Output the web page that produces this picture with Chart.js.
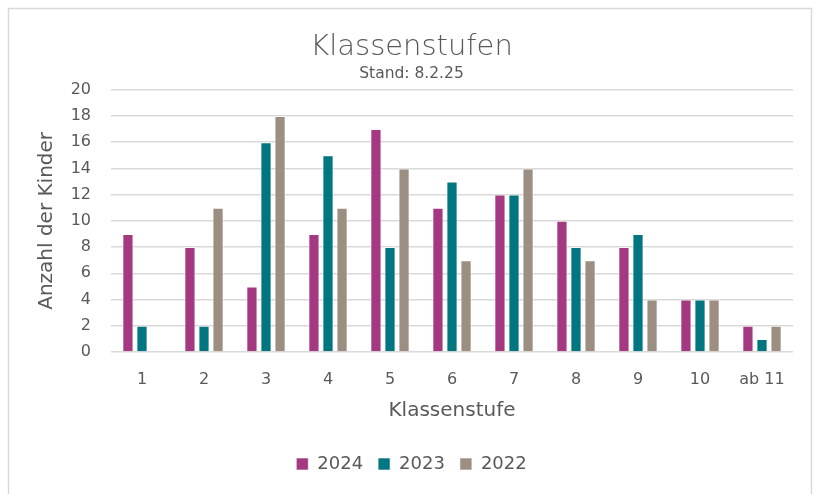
<!DOCTYPE html>
<html>
<head>
<meta charset="utf-8">
<script src="https://cdn.jsdelivr.net/npm/chart.js@4/dist/chart.umd.min.js"></script>
<style>
html,body{margin:0;padding:0;background:#fff;}
#wrap{position:absolute;left:0;top:0;width:819px;height:494px;}
</style>
</head>
<body>
<div id="wrap"><canvas id="c" width="819" height="494"></canvas></div>
<script>
const categories = ['1','2','3','4','5','6','7','8','9','10','ab 11'];
const values2024 = [9, 8, 5, 9, 17, 11, 12, 10, 8, 4, 2];
const values2023 = [2, 2, 16, 15, 8, 13, 12, 8, 9, 4, 1];
const values2022 = [0, 11, 18, 11, 14, 7, 14, 7, 4, 4, 2];
const yTicks = [0, 2, 4, 6, 8, 10, 12, 14, 16, 18, 20];

const FONT = "'DejaVu Sans', sans-serif";
const TXT = '#595959';
const GRID = '#d9d9d9';

const frame = {
  id: 'frame',
  beforeDraw(chart) {
    const ctx = chart.ctx;
    ctx.save();
    ctx.fillStyle = '#fff';
    ctx.fillRect(0, 0, chart.width, chart.height);
    ctx.strokeStyle = GRID;
    ctx.lineWidth = 1.5;
    ctx.strokeRect(8.5, 8.5, 803, 520);
    ctx.restore();
  }
};

function ds(label, data, color) {
  return {
    label, data,
    backgroundColor: color,
    borderColor: 'rgba(255,255,255,0.6)',
    borderWidth: 1,
    categoryPercentage: 0.68,
    barPercentage: 0.8
  };
}

new Chart(document.getElementById('c'), {
  type: 'bar',
  data: {
    labels: categories,
    datasets: [
      ds('2024', values2024, '#a53981'),
      ds('2023', values2023, '#007680'),
      ds('2022', values2022, '#9c8f82')
    ]
  },
  plugins: [frame],
  options: {
    responsive: false,
    animation: false,
    devicePixelRatio: 1,
    layout: { padding: { left: 30, right: 26, top: 0, bottom: 11 } },
    plugins: {
      title: {
        display: true, text: 'Klassenstufen', color: TXT,
        font: { family: FONT, size: 29, weight: '200' },
        padding: { top: 29.6, bottom: 0 }
      },
      subtitle: {
        display: true, text: 'Stand: 8.2.25', color: TXT,
        font: { family: FONT, size: 15.5, weight: '400' },
        padding: { top: 0.5, bottom: 6.2 }
      },
      legend: {
        position: 'bottom',
        labels: {
          color: TXT, boxWidth: 12, boxHeight: 12, padding: 15,
          font: { family: FONT, size: 18, weight: '400' }
        }
      },
      tooltip: { enabled: false }
    },
    scales: {
      x: {
        grid: { display: false, drawTicks: false },
        border: { display: false },
        ticks: { color: TXT, padding: 18, font: { family: FONT, size: 16, weight: '400' } },
        title: {
          display: true, text: 'Klassenstufe', color: TXT,
          font: { family: FONT, size: 20, weight: '400' },
          padding: { top: 0, bottom: 17 }
        },
        afterFit(s) { s.height = 88; }
      },
      y: {
        min: 0, max: 20,
        afterBuildTicks(s) { s.ticks = yTicks.map(v => ({ value: v })); },
        grid: { color: GRID, lineWidth: 1.5, drawTicks: false },
        border: { display: false },
        ticks: { color: TXT, padding: 20, font: { family: FONT, size: 16, weight: '400' } },
        title: {
          display: true, text: 'Anzahl der Kinder', color: TXT,
          font: { family: FONT, size: 20, weight: '400' },
          padding: { top: 5, bottom: 0 }
        },
        afterFit(s) { s.width = 81; }
      }
    }
  }
});
</script>
</body>
</html>
